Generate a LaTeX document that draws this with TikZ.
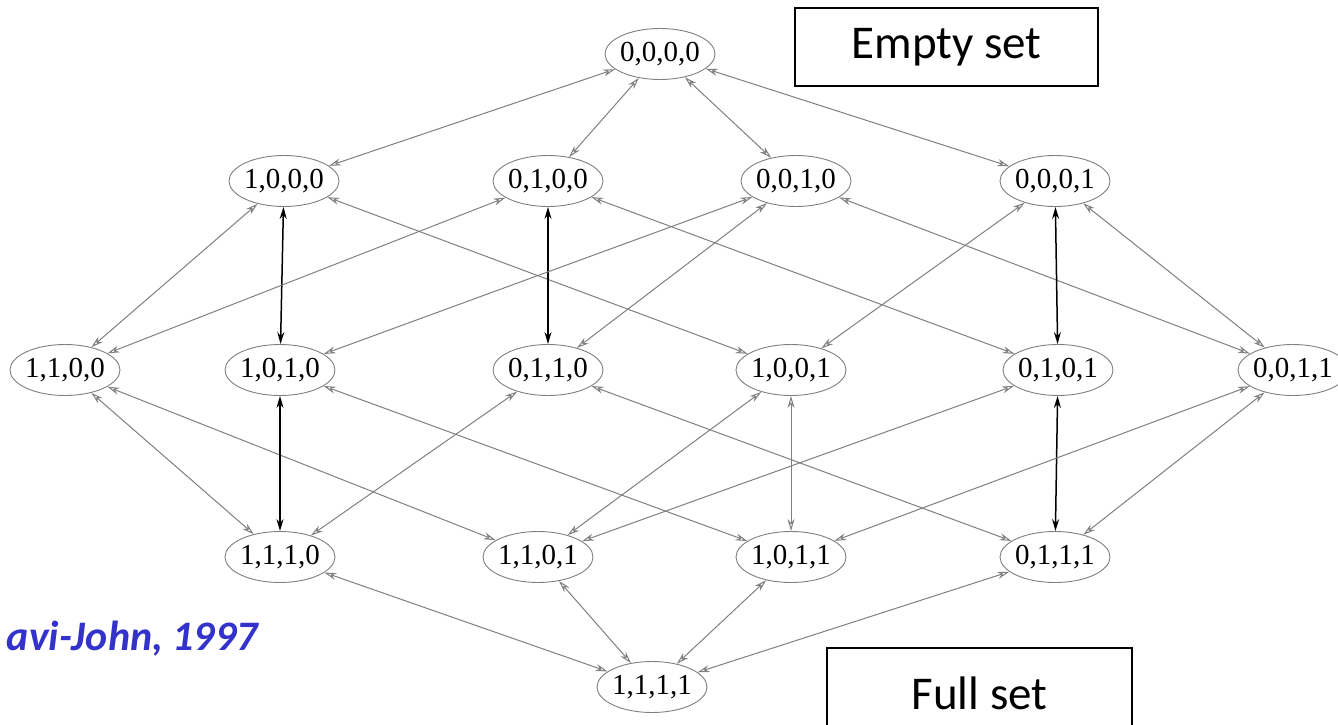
\documentclass[tikz,border=0pt]{standalone}
\usepackage{fontspec}
\setmainfont{Liberation Serif}
\newfontfamily\calibrifont{Carlito}
\usetikzlibrary{shapes.geometric,arrows.meta}
\definecolor{edgegray}{gray}{0.5}
\definecolor{citeblue}{RGB}{51,51,204}
\tikzset{
  setnode/.style={ellipse, draw=edgegray, line width=0.9pt, minimum width=110pt, minimum height=51pt, inner sep=0pt, font=\fontsize{29}{29}\selectfont},
  lat/.style={draw=edgegray, line width=1pt, {Stealth[length=12pt,width=7pt,open]}-{Stealth[length=12pt,width=7pt,open]}},
  latdark/.style={lat, draw=black, line width=1.5pt},
  labelbox/.style={draw=black, line width=1.8pt, font=\calibrifont\fontsize{47}{47}\selectfont, inner sep=0pt},
  citestyle/.style={text=citeblue, font=\calibrifont\bfseries\itshape\fontsize{42}{42}\selectfont, inner sep=0pt}
}
\newcommand{\zb}[1]{\makebox[0pt]{#1}}
\begin{document}
\begin{tikzpicture}[x=1pt,y=-1pt]
\useasboundingbox (0,0) rectangle (1338,725);
\clip (0,0) rectangle (1338,725);
\fill[white] (0,0) rectangle (1338,725);
% nodes
\node[setnode] (n0000) at (660,54) {\zb{0,0,0,0}};
\node[setnode] (n1000) at (284,181) {\zb{1,0,0,0}};
\node[setnode] (n0100) at (548,181) {\zb{0,1,0,0}};
\node[setnode] (n0010) at (796,181) {\zb{0,0,1,0}};
\node[setnode] (n0001) at (1055,181) {\zb{0,0,0,1}};
\node[setnode] (n1100) at (65,370) {\zb{1,1,0,0}};
\node[setnode] (n1010) at (280,370) {\zb{1,0,1,0}};
\node[setnode] (n0110) at (548,370) {\zb{0,1,1,0}};
\node[setnode] (n1001) at (791,370) {\zb{1,0,0,1}};
\node[setnode] (n0101) at (1058,370) {\zb{0,1,0,1}};
\node[setnode] (n0011) at (1293,370) {\zb{0,0,1,1}};
\node[setnode] (n1110) at (280,557) {\zb{1,1,1,0}};
\node[setnode] (n1101) at (538,557) {\zb{1,1,0,1}};
\node[setnode] (n1011) at (791,557) {\zb{1,0,1,1}};
\node[setnode] (n0111) at (1055,557) {\zb{0,1,1,1}};
\node[setnode] (n1111) at (652,687) {\zb{1,1,1,1}};
% edges
\draw[lat] (n0000) -- (n1000);
\draw[lat] (n0000) -- (n0100);
\draw[lat] (n0000) -- (n0010);
\draw[lat] (n0000) -- (n0001);
\draw[lat] (n1000) -- (n1100);
\draw[latdark] (n1000) -- (n1010);
\draw[lat] (n1000) -- (n1001);
\draw[lat] (n0100) -- (n1100);
\draw[latdark] (n0100) -- (n0110);
\draw[lat] (n0100) -- (n0101);
\draw[lat] (n0010) -- (n1010);
\draw[lat] (n0010) -- (n0110);
\draw[lat] (n0010) -- (n0011);
\draw[lat] (n0001) -- (n1001);
\draw[latdark] (n0001) -- (n0101);
\draw[lat] (n0001) -- (n0011);
\draw[lat] (n1100) -- (n1110);
\draw[lat] (n1100) -- (n1101);
\draw[latdark] (n1010) -- (n1110);
\draw[lat] (n1010) -- (n1011);
\draw[lat] (n0110) -- (n1110);
\draw[lat] (n0110) -- (n0111);
\draw[lat] (n1001) -- (n1101);
\draw[lat] (n1001) -- (n1011);
\draw[lat] (n0101) -- (n1101);
\draw[latdark] (n0101) -- (n0111);
\draw[lat] (n0011) -- (n1011);
\draw[lat] (n0011) -- (n0111);
\draw[lat] (n1110) -- (n1111);
\draw[lat] (n1101) -- (n1111);
\draw[lat] (n1011) -- (n1111);
\draw[lat] (n0111) -- (n1111);
% labels
\node[labelbox, minimum width=303pt, minimum height=78pt] (emptybox) at (946.5,47) {Empty set};
\node[labelbox, minimum width=305pt, minimum height=90pt] (fullbox) at (979.5,693) {Full set};
\node[citestyle, anchor=base east] (cite) at (258,650) {avi-John, 1997};
\end{tikzpicture}
\end{document}
